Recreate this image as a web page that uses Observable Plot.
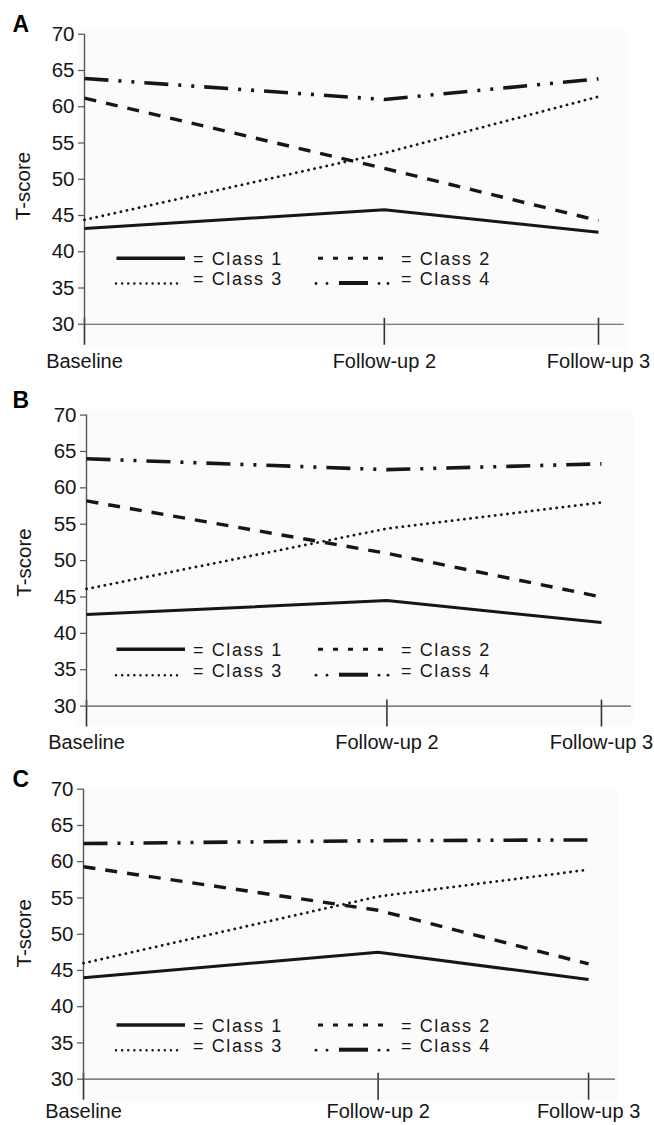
<!DOCTYPE html>
<html><head><meta charset="utf-8">
<script src="https://cdn.jsdelivr.net/npm/d3@7"></script>
<script src="https://cdn.jsdelivr.net/npm/@observablehq/plot@0.6"></script>
<style>
html,body{margin:0;padding:0;background:#fff;}
#root{position:relative;width:654px;height:1125px;overflow:hidden;font-family:"Liberation Sans",Arial,Helvetica,sans-serif;}
.panel{position:absolute;left:0;}
</style></head>
<body><div id="root"></div>
<script>
// ---- data ----
const timepoints = ["Baseline", "Follow-up 2", "Follow-up 3"];
const monthsFromBaseline = [0, 7, 12];
const classNames = ["Class 1", "Class 2", "Class 3", "Class 4"];
const yTicks = [30, 35, 40, 45, 50, 55, 60, 65, 70];

const A_class1 = [43.2, 45.8, 42.7];
const A_class2 = [61.2, 51.5, 44.3];
const A_class3 = [44.4, 53.6, 61.4];
const A_class4 = [63.9, 61.0, 63.85];

const B_class1 = [42.6, 44.5, 41.5];
const B_class2 = [58.2, 51.0, 45.0];
const B_class3 = [46.1, 54.4, 58.0];
const B_class4 = [64.0, 62.5, 63.3];

const C_class1 = [44.0, 47.5, 43.75];
const C_class2 = [59.3, 53.3, 45.9];
const C_class3 = [46.0, 55.2, 58.9];
const C_class4 = [62.5, 62.9, 63.0];

// ---- styles / layout ----
const INK = "#161616";
const AXIS = "#555";
const FONT = '"Liberation Sans", Arial, Helvetica, sans-serif';
const lineStyles = {
  "Class 1": {strokeWidth: 3, strokeDasharray: null, strokeLinecap: "butt"},
  "Class 2": {strokeWidth: 3.4, strokeDasharray: "12,10", strokeLinecap: "butt"},
  "Class 3": {strokeWidth: 2.8, strokeDasharray: "0.1,6.1", strokeLinecap: "round"},
  "Class 4": {strokeWidth: 3.6, strokeDasharray: "24,10,3,10,3,10", strokeLinecap: "butt"}
};

const panels = [
  {letter: "A", series: [A_class1, A_class2, A_class3, A_class4], top: 0, height: 375,
   marginTop: 33.75, marginBottom: 51.25, marginLeft: 84, marginRight: 30.3, xMax: 12.6, pad: 9,
   bg: [-6, -3.3, -3.75, -24], letterBase: 32, tscore: [23, 186], legendBase: [265, 285]},
  {letter: "B", series: [B_class1, B_class2, B_class3, B_class4], top: 378, height: 375,
   marginTop: 36.6, marginBottom: 47.4, marginLeft: 86, marginRight: 23, xMax: 12.7, pad: 8,
   bg: [-9, -2, -4.6, -19.4], letterBase: 30, tscore: [23.5, 184.5], legendBase: [278, 298.7]},
  {letter: "C", series: [C_class1, C_class2, C_class3, C_class4], top: 752, height: 373,
   marginTop: 36.7, marginBottom: 46.3, marginLeft: 83, marginRight: 39, xMax: 12.64, pad: 4,
   bg: [-5, -2, -2, -23], letterBase: 35, tscore: [23.5, 181.3], legendBase: [279.7, 299.7]}
];

function decorations(p) {
  return () => {
    const g = d3.create("svg:g").attr("text-anchor", "start");
    g.append("text").attr("x", 12.5).attr("y", p.letterBase)
      .attr("font-family", FONT).attr("font-size", 23).attr("font-weight", "bold")
      .attr("fill", "#000").text(p.letter);
    g.append("text").attr("transform", `translate(${p.tscore[0]},${p.tscore[1]}) rotate(-90)`)
      .attr("text-anchor", "middle").attr("dy", "0.35em")
      .attr("font-family", FONT).attr("font-size", 20.5).attr("fill", INK).text("T-score");
    const [b1, b2] = p.legendBase;
    const txt = (x, y, s) => g.append("text").attr("x", x).attr("y", y)
      .attr("text-anchor", "start")
      .attr("font-family", FONT).attr("font-size", 18).attr("letter-spacing", "1.6px")
      .attr("fill", INK).text("= " + s);
    g.append("line").attr("x1", 116.5).attr("x2", 185).attr("y1", b1 - 6.7).attr("y2", b1 - 6.7)
      .attr("stroke", INK).attr("stroke-width", 3.6);
    txt(193, b1, classNames[0]);
    g.append("line").attr("x1", 318).attr("x2", 383).attr("y1", b1 - 6.7).attr("y2", b1 - 6.7)
      .attr("stroke", INK).attr("stroke-width", 3).attr("stroke-dasharray", "5,10");
    txt(401, b1, classNames[1]);
    g.append("line").attr("x1", 116).attr("x2", 182).attr("y1", b2 - 1.5).attr("y2", b2 - 1.5)
      .attr("stroke", INK).attr("stroke-width", 2.4).attr("stroke-linecap", "round")
      .attr("stroke-dasharray", "0.1,6");
    txt(193, b2, classNames[2]);
    for (const cx of [316, 327, 379, 388]) {
      g.append("circle").attr("cx", cx).attr("cy", b2 - 1.5).attr("r", 1.4).attr("fill", INK);
    }
    g.append("line").attr("x1", 339).attr("x2", 368).attr("y1", b2 - 2).attr("y2", b2 - 2)
      .attr("stroke", INK).attr("stroke-width", 4);
    txt(401, b2, classNames[3]);
    return g.node();
  };
}

const root = document.getElementById("root");

for (const p of panels) {
  const rows = [];
  p.series.forEach((vals, ci) => {
    vals.forEach((v, ti) => rows.push({cls: classNames[ci], t: monthsFromBaseline[ti], tp: timepoints[ti], score: v}));
  });
  const lineMarks = classNames.map(c => Plot.line(rows.filter(r => r.cls === c), {
    x: "t", y: "score", stroke: INK, ...lineStyles[c], strokeLinejoin: "miter"
  }));
  const plot = Plot.plot({
    width: 654,
    height: p.height,
    marginTop: p.marginTop,
    marginBottom: p.marginBottom,
    marginLeft: p.marginLeft,
    marginRight: p.marginRight,
    style: {fontFamily: FONT, color: INK, background: "transparent", overflow: "visible"},
    x: {domain: [0, p.xMax]},
    y: {domain: [30, 70]},
    marks: [
      Plot.frame({fill: "#fbfbfb", stroke: null,
        insetLeft: p.bg[0], insetRight: p.bg[1], insetTop: p.bg[2], insetBottom: p.bg[3]}),
      Plot.axisY({ticks: yTicks, tickSize: 6, tickPadding: 4, fontSize: 20.5, label: null,
        stroke: AXIS, fill: INK, strokeWidth: 1.2}),
      Plot.axisX({ticks: monthsFromBaseline, tickFormat: d => timepoints[monthsFromBaseline.indexOf(d)],
        tickSize: 27, dy: -6, tickPadding: p.pad, fontSize: 20, label: null,
        stroke: "#333", fill: INK, strokeWidth: 1.6}),
      Plot.ruleX([0], {stroke: AXIS, strokeWidth: 1.4}),
      Plot.ruleY([30], {stroke: AXIS, strokeWidth: 1.2}),
      ...lineMarks,
      decorations(p)
    ]
  });
  const wrap = document.createElement("div");
  wrap.className = "panel";
  wrap.style.top = p.top + "px";
  wrap.appendChild(plot);
  root.appendChild(wrap);
}
</script>
</body></html>
